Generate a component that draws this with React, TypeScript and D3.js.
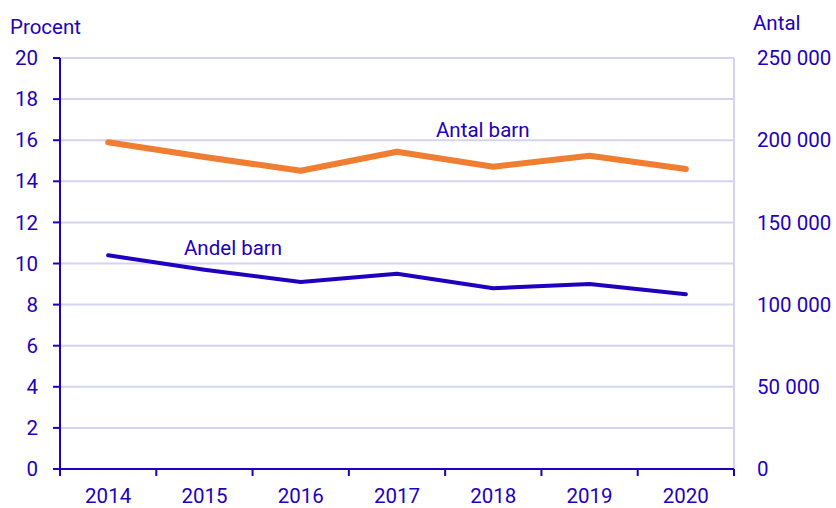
import React from "react";
import * as d3 from "d3";

const years = ["2014", "2015", "2016", "2017", "2018", "2019", "2020"];
// Andel barn, procent (vänster axel)
const andelBarn = [10.4, 9.7, 9.1, 9.5, 8.8, 9.0, 8.5];
// Antal barn (höger axel)
const antalBarn = [198700, 189800, 181400, 193000, 183900, 190600, 182500];
const leftTicks = [0, 2, 4, 6, 8, 10, 12, 14, 16, 18, 20];
const rightTicks = [0, 50000, 100000, 150000, 200000, 250000];

const blue = "#1e00be";
const orange = "#ef7d32";
const grid = "#d4d4f0";
const font = "Roboto, sans-serif";
const fs = 20.5;

const fmt = (v: number) => d3.format(",")(v).replace(/,/g, " ");

export default function App() {
  const width = 836;
  const height = 508;
  const margin = { top: 58, bottom: 39, left: 60, right: 102 };
  const innerWidth = width - margin.left - margin.right;
  const innerHeight = height - margin.top - margin.bottom;

  const x = d3.scaleBand().domain(years).range([0, innerWidth]);
  const yLeft = d3.scaleLinear().domain([0, 20]).range([innerHeight, 0]);
  const yRight = d3.scaleLinear().domain([0, 250000]).range([innerHeight, 0]);

  const cx = (y: string) => (x(y) ?? 0) + x.bandwidth() / 2;

  const andelLine = d3
    .line<number>()
    .x((_, i) => cx(years[i]))
    .y((d) => yLeft(d));
  const antalLine = d3
    .line<number>()
    .x((_, i) => cx(years[i]))
    .y((d) => yRight(d));

  return (
    <svg
      width={width}
      height={height}
      style={{ position: "absolute", left: 0, top: 0 }}
      fontFamily={font}
    >
      <text x={10} y={34} fontSize={fs} fill={blue}>Procent</text>
      <text x={753} y={29.5} fontSize={fs} fill={blue}>Antal</text>
      <g transform={`translate(${margin.left},${margin.top})`}>
        {leftTicks.map((t) => (
          <g key={t}>
            {t > 0 && (
              <line x1={0} x2={innerWidth} y1={yLeft(t)} y2={yLeft(t)} stroke={grid} strokeWidth={2} />
            )}
            <line x1={-7} x2={0} y1={yLeft(t)} y2={yLeft(t)} stroke={blue} strokeWidth={2} />
            <text x={-22} y={yLeft(t)} dy="0.35em" textAnchor="end" fontSize={fs} fill={blue}>
              {t}
            </text>
          </g>
        ))}
        <line x1={innerWidth} x2={innerWidth} y1={0} y2={innerHeight} stroke={grid} strokeWidth={2} />
        {rightTicks.map((t) => (
          <text key={t} x={innerWidth + 23} y={yRight(t)} dy="0.35em" fontSize={fs} fill={blue}>
            {fmt(t)}
          </text>
        ))}
        <line x1={0} x2={0} y1={0} y2={innerHeight} stroke={blue} strokeWidth={2} />
        <line x1={0} x2={innerWidth} y1={innerHeight} y2={innerHeight} stroke={blue} strokeWidth={2} />
        {years.map((y) => (
          <line
            key={y}
            x1={x(y)}
            x2={x(y)}
            y1={innerHeight}
            y2={innerHeight + 7}
            stroke={blue}
            strokeWidth={2}
          />
        ))}
        <line x1={innerWidth} x2={innerWidth} y1={innerHeight} y2={innerHeight + 7} stroke={blue} strokeWidth={2} />
        {years.map((y) => (
          <text key={y} x={cx(y)} y={innerHeight + 34} textAnchor="middle" fontSize={fs} fill={blue}>
            {y}
          </text>
        ))}
        <path d={antalLine(antalBarn) ?? ""} fill="none" stroke={orange} strokeWidth={6} strokeLinecap="round" strokeLinejoin="round" />
        <path d={andelLine(andelBarn) ?? ""} fill="none" stroke={blue} strokeWidth={4} strokeLinecap="round" strokeLinejoin="round" />
        <text x={376} y={79} fontSize={fs} fill={blue}>Antal barn</text>
        <text x={124} y={197} fontSize={fs} fill={blue}>Andel barn</text>
      </g>
    </svg>
  );
}
